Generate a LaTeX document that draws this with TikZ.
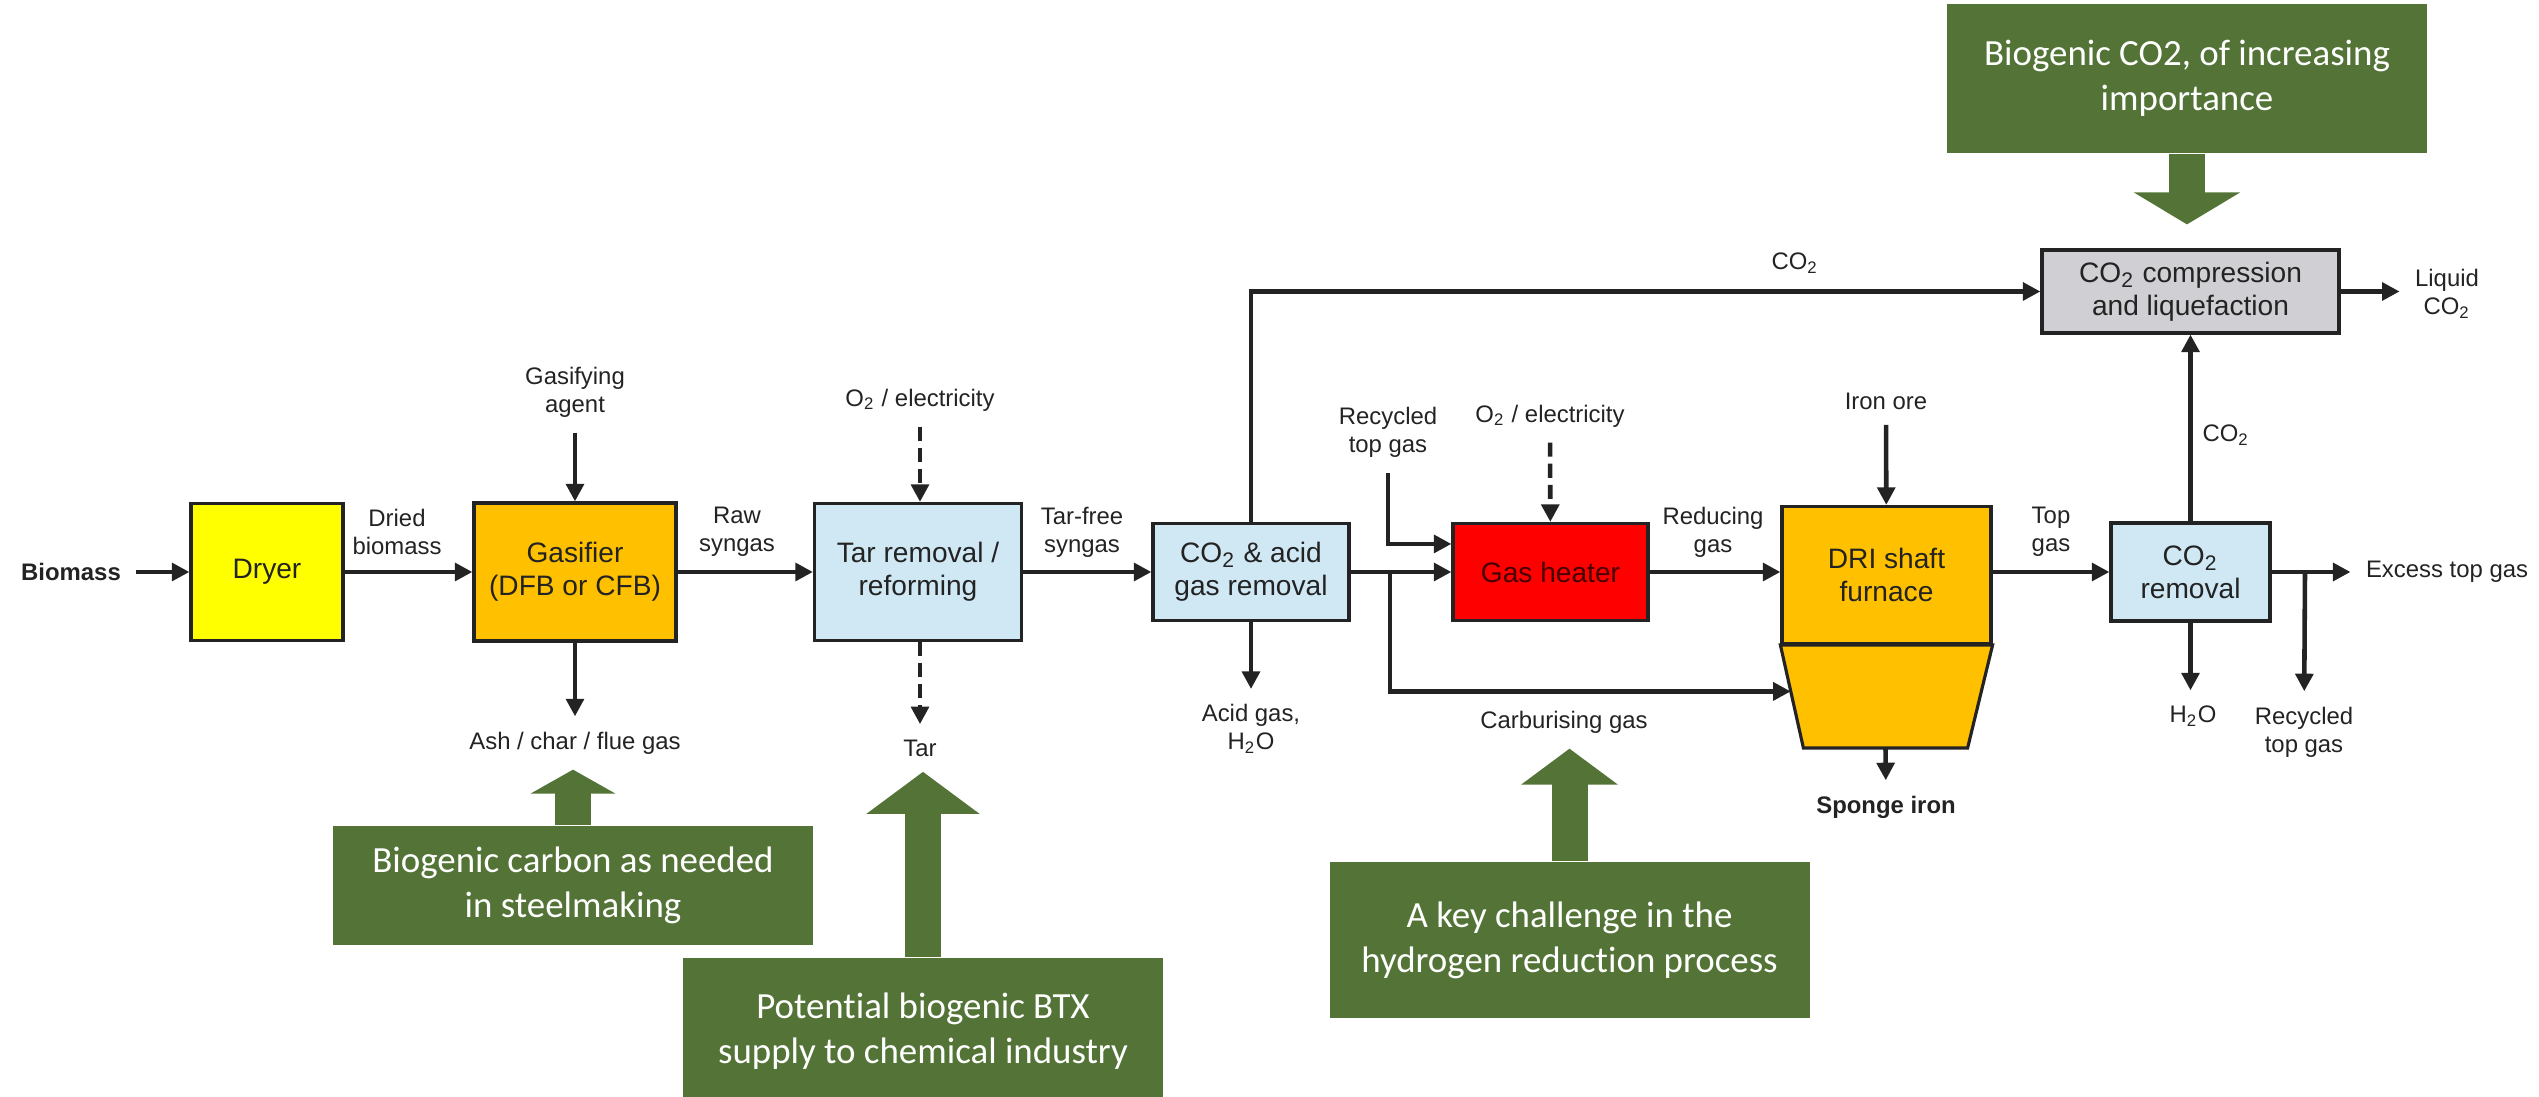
\documentclass[tikz,border=0pt]{standalone}
\usepackage{fontspec}
\setmainfont[Ligatures=NoCommon]{Liberation Sans}
\newfontfamily\callout[Ligatures=NoCommon]{Carlito}
\usepackage{tikz}
\usetikzlibrary{calc, arrows.meta, math}

\definecolor{dryer}{RGB}{255,255,0}
\definecolor{amber}{RGB}{255,192,0}
\definecolor{paleblue}{RGB}{207,232,244}
\definecolor{heat}{RGB}{255,0,0}
\definecolor{embers}{RGB}{70,0,0}
\definecolor{steel}{RGB}{208,208,212}
\definecolor{leaf}{RGB}{83,116,54}
\definecolor{ink}{RGB}{35,35,35}

\begin{document}
\begin{tikzpicture}[>={Triangle[length=5pt, width=5pt]},
  stage/.style={draw=ink, line width=0.9pt, text=ink, align=center, font=\fontsize{8}{9.4}\selectfont, inner sep=1pt},
  lab/.style={text=ink, align=center, font=\fontsize{6.8}{8}\selectfont, inner sep=1pt, outer sep=1.2mm},
  flow/.style={draw=ink, line width=1.3pt, ->},
  aux/.style={flow, dash pattern=on 4pt off 2pt},
  note/.style={fill=leaf, text=white, align=center, font=\callout\fontsize{10.5}{12.8}\selectfont, minimum width=4.8cm},
  push/.style 2 args={draw=leaf, line width=3.6mm, -{Triangle[width=#1, length=#2]}}]

\tikzmath{
  \ym = 5.25; \yl = 5.65;
}

\useasboundingbox (0,0) rectangle (25.39,10.97);

\node[stage, fill=dryer, minimum width=1.52cm, minimum height=1.37cm] (dryer) at (2.67,\ym) {Dryer};
\node[stage, fill=amber, minimum width=2.02cm, minimum height=1.38cm] (gasifier) at (5.75,\ym) {Gasifier\\(DFB or CFB)};
\node[stage, fill=paleblue, minimum width=2.07cm, minimum height=1.37cm] (tar) at (9.18,\ym) {Tar removal /\\reforming};
\node[stage, fill=paleblue, minimum width=1.96cm, minimum height=0.97cm] (acid) at (12.51,\ym) {CO\textsubscript{2} \& acid\\gas removal};
\node[stage, fill=heat, text=embers, minimum width=1.95cm, minimum height=0.97cm] (heater) at (15.505,\ym) {Gas heater};
\node[stage, fill=amber, minimum width=2.09cm, minimum height=1.37cm] (dri) at (18.865,5.22) {DRI shaft\\furnace};
\node[stage, fill=paleblue, minimum width=1.59cm, minimum height=0.98cm] (co2rem) at (21.905,\ym) {CO\textsubscript{2}\\removal};
\node[stage, fill=steel, minimum width=2.97cm, minimum height=0.83cm] (comp) at (21.905,8.055) {CO\textsubscript{2} compression\\and liquefaction};

\coordinate (conebl) at ($(dri.south west)+(0.23,-1.03)$);
\coordinate (conebr) at ($(dri.south east)+(-0.25,-1.03)$);
\draw[ink, line width=0.9pt, fill=amber] (dri.south west) -- (dri.south east) -- (conebr) -- (conebl) -- cycle;
\coordinate (conein) at ($(dri.south west)!0.45!(conebl)$);
\coordinate (cone) at ($(conebl)!0.5!(conebr)$);

\node[lab, font=\bfseries\fontsize{6.8}{8}\selectfont] (biomass) at (0.71,\ym) {Biomass};
\node[lab] (dried) at (3.97,\yl) {Dried\\biomass};
\node[lab] (agent) at (5.75,7.05) {Gasifying\\agent};
\node[lab] (ash) at (5.75,3.54) {Ash / char / flue gas};
\node[lab] (raw) at (7.37,\yl) {Raw\\syngas};
\node[lab] (oxy1) at (9.20,6.97) {O\textsubscript{2} / electricity};
\node[lab] (tarout) at (9.20,3.49) {Tar};
\node[lab] (tarfree) at (10.82,\yl) {Tar-free\\syngas};
\node[lab] (co2a) at (17.95,8.34) {CO\textsubscript{2}};
\node[lab] (acidout) at (12.51,3.68) {Acid gas,\\H\textsubscript{2}O};
\node[lab] (rtg) at (13.88,6.65) {Recycled\\top gas};
\node[lab] (oxy2) at (15.50,6.81) {O\textsubscript{2} / electricity};
\node[lab] (carb) at (15.64,3.75) {Carburising gas};
\node[lab] (reducing) at (17.13,\yl) {Reducing\\gas};
\node[lab] (ore) at (18.86,6.96) {Iron ore};
\node[lab, font=\bfseries\fontsize{6.8}{8}\selectfont] (sponge) at (18.86,2.90) {Sponge iron};
\node[lab] (topgas) at (20.51,\yl) {Top\\gas};
\node[lab] (co2b) at (22.26,6.62) {CO\textsubscript{2}};
\node[lab] (liquid) at (24.47,8.03) {Liquid\\CO\textsubscript{2}};
\node[lab, anchor=west] (excess) at (23.505,\ym) {Excess top gas};
\node[lab] (rtg2) at (23.04,3.65) {Recycled\\top gas};
\node[lab] (water) at (21.93,3.81) {H\textsubscript{2}O};

\coordinate (tap) at ($(acid.east)!0.39!(heater.west)$);
\coordinate (tap2) at (23.05,\ym);

\draw[flow] (biomass) -- (dryer);
\draw[flow] (dryer) -- (gasifier);
\draw[flow] (gasifier) -- (tar);
\draw[flow] (tar) -- (acid);
\draw[flow] (acid) -- (heater);
\draw[flow] (heater) -- (heater -| dri.west);
\draw[flow] (co2rem -| dri.east) -- (co2rem);
\draw[flow] (co2rem) -- (excess);
\draw[flow] (tap2) -- (rtg2);
\draw[flow] (co2rem.south) -- (co2rem.south |- water.north);
\draw[flow] (co2rem) -- (comp);
\draw[flow] (comp.east) -- (comp.east -| liquid.west);
\draw[flow] (acid.north) |- (comp.west);
\draw[flow] (agent) -- (gasifier);
\draw[flow] (gasifier) -- (ash);
\draw[aux] (oxy1) -- (oxy1 |- tar.north);
\draw[aux] (tarout |- tar.south) -- (tarout);
\draw[flow] (acid) -- (acidout);
\draw[flow] (rtg) |- ($(heater.north west)!0.22!(heater.south west)$);
\draw[aux] (oxy2) -- (heater);
\draw[flow] (ore) -- (dri);
\draw[flow] (tap) |- (conein);
\draw[flow] (cone) -- (sponge);

\node[note, minimum height=1.49cm] (g1) at (21.87,10.185) {Biogenic CO2, of increasing\\importance};
\node[note, minimum height=1.19cm] (g2) at (5.73,2.115) {Biogenic carbon as needed\\in steelmaking};
\node[note, minimum height=1.46cm] (g3) at (9.23,0.66) {Potential biogenic BTX\\supply to chemical industry};
\node[note, minimum height=1.56cm] (g4) at (15.695,1.57) {A key challenge in the\\hydrogen reduction process};

\draw[push={1.05cm}{0.32cm}, shorten >=2.4mm] (g1) -- (g1 |- comp.north);
\draw[push={0.84cm}{0.24cm}] (g2) -- (g2 |- ash.south);
\draw[push={1.11cm}{0.42cm}] (g3) -- (g3 |- tarout.south);
\draw[push={0.95cm}{0.36cm}] (g4) -- (g4 |- carb.south);

\end{tikzpicture}
\end{document}
